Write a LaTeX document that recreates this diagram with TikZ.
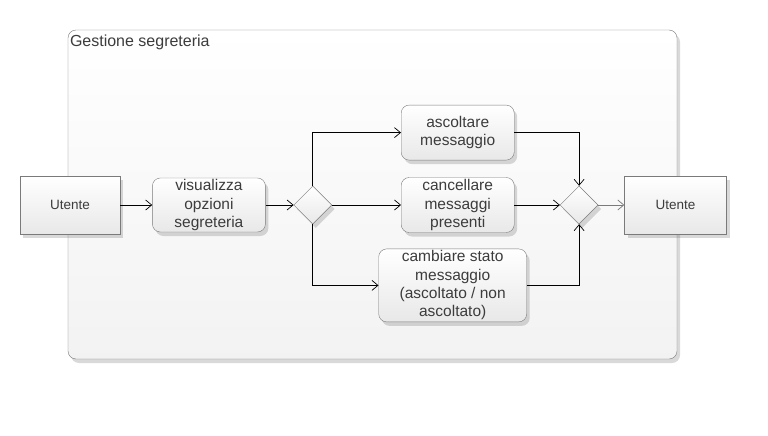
\documentclass[tikz,border=0pt]{standalone}
\usepackage{fontspec}
\setmainfont{Liberation Sans}
\usetikzlibrary{arrows.meta,positioning,shapes.geometric,shadows}
\definecolor{txtgray}{HTML}{3C3C3C}
\definecolor{edgegray}{HTML}{7A7A7A}

\begin{document}
\begin{tikzpicture}[
    x=1pt, y=-1pt,
    shade/.style={top color=white, bottom color=black!9,
                  drop shadow={shadow xshift=3pt, shadow yshift=-4pt,
                               opacity=0.25, fill=black!60}},
    activity/.style={draw=edgegray, rounded corners=8pt, align=center,
                     shade, inner sep=1pt, text=txtgray,
                     font=\fontsize{15.5}{18.3}\selectfont},
    actor/.style={draw=edgegray, shade, minimum height=58pt,
                  text=txtgray, font=\fontsize{13.5}{15}\selectfont},
    decision/.style={diamond, draw=edgegray, shade, aspect=1, inner sep=0pt,
                     minimum size=38pt},
    arrow/.style={-{Straight Barb[length=6pt, width=10pt]}, line width=0.7pt}
]
\useasboundingbox (0,0) rectangle (768,436);

% container
\node[draw=edgegray, rounded corners=8pt, minimum width=609pt, minimum height=329pt,
      top color=white, bottom color=black!5,
      drop shadow={shadow xshift=3pt, shadow yshift=-4pt, opacity=0.25, fill=black!60}]
      (frame) at (372.5,194.5) {};
\node[anchor=north west, inner sep=2pt, yshift=-3pt, text=txtgray,
      font=\fontsize{16}{18}\selectfont] (title) at (frame.north west) {Gestione segreteria};

% nodes
\node[actor, minimum width=100pt] (userin) at (70,205) {Utente};
\node[activity, minimum width=113pt, minimum height=54pt, right=32pt of userin] (show)
     {visualizza\\opzioni\\segreteria};
\node[decision, right=28pt of show] (split) {};
\node[activity, minimum width=113pt, minimum height=55pt, right=69pt of split] (delete)
     {cancellare\\messaggi\\presenti};
\node[activity, minimum width=113pt, minimum height=55pt, above=17pt of delete] (listen)
     {ascoltare\\messaggio};
\node[activity, minimum width=148pt, minimum height=73pt, below=16pt of delete,
      xshift=-5pt] (status)
     {cambiare stato\\messaggio\\(ascoltato / non\\ascoltato)};
\node[decision, right=45.5pt of delete] (merge) {};
\node[actor, minimum width=102pt, right=26pt of merge] (userout) {Utente};

% connectors
\draw[arrow] (userin) -- (show);
\draw[arrow] (show) -- (split);
\draw[arrow] (split.north) |- (listen.west);
\draw[arrow] (split) -- (delete);
\draw[arrow] (split.south) |- (status.west);
\draw[arrow] (listen.east) -| (merge.north);
\draw[arrow] (delete) -- (merge);
\draw[arrow] (status.east) -| (merge.south);
\draw[arrow, edgegray] (merge) -- (userout);
\end{tikzpicture}
\end{document}
